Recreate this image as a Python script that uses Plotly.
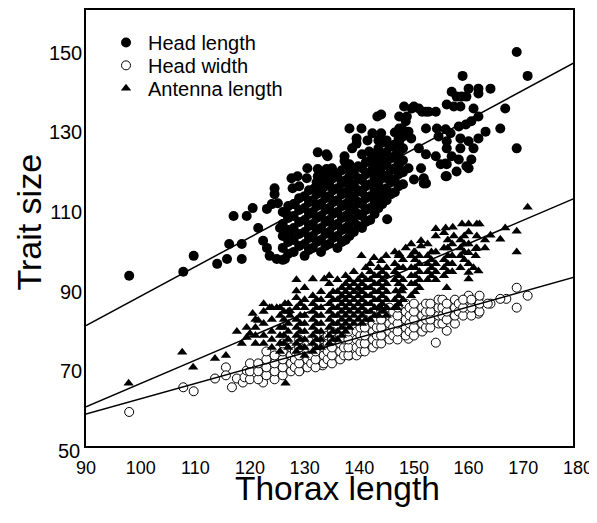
import plotly.graph_objects as go

# ---------------- data ----------------
head_length_pts = [
    (97.9, 94), (107.8, 95), (109.7, 99), (114, 97), (115.8, 98.2), (116.2, 102), (117, 109),
    (119.4, 109), (118.5, 98.2), (118.5, 102), (120.5, 111), (121.5, 106), (122.4, 102.8),
    (123.1, 101), (123.6, 99), (124.9, 98.2), (123.1, 110.8), (124, 112), (124.5, 116),
    (124.5, 114.5), (125.1, 112.2), (125.5, 106), (126.4, 104.5), (126.4, 98.2), (126.7, 109.5),
    (127.6, 118.5), (127.8, 116), (128.2, 112), (127.3, 104.5),
    (130.5, 121), (132.4, 125), (134.2, 124), (132.4, 120.8), (132.4, 119), (134, 120.8),
    (134, 118.5), (128.7, 119), (130.4, 118.5), (131.8, 116), (133.3, 116), (135, 121),
    (135.5, 119.8), (137.3, 124), (137.3, 122.8), (141.8, 125.2), (138.2, 131), (140.4, 131),
    (142.4, 129.8), (144, 129.8), (139.5, 128.5), (139.5, 127.2), (138.7, 126), (141.5, 128),
    (143.5, 128), (145.5, 126.5), (134, 124.5), (140.5, 124.5), (144.2, 122.8), (144.2, 121.5),
    (147.3, 122), (147.3, 120.8), (138.7, 121), (142.4, 120.8), (144.5, 119), (145.8, 118.2),
    (148.2, 136.5), (150, 136.5), (150.9, 136), (152.2, 135.2), (154, 135.2), (147.3, 134),
    (148.7, 134), (144, 134.5), (143.3, 134), (147.3, 131), (147.3, 127.8), (147.8, 131),
    (148.5, 132.8), (149, 130.2), (149.5, 128.5), (149, 121), (150, 118.2), (152.2, 117.2),
    (152.2, 124.5), (154, 124), (156, 137), (154.5, 129), (155.8, 122.2), (155.8, 119),
    (150.9, 126), (146.7, 126), (147.3, 125.2), (147.3, 119.8), (144.2, 119.5), (145.1, 118.5),
    (146, 118.2), (144.2, 114.5), (144.2, 113.2), (145.1, 108.2),
    (168.8, 150.2), (170.8, 144.2), (158.9, 144.2), (160, 141), (161.8, 141), (161.8, 139.8),
    (164, 141), (156.9, 140.2), (157.8, 139), (158.7, 139), (159.6, 139), (157.3, 136.5),
    (158.5, 136.5), (160.9, 136), (161.8, 134), (166.7, 136), (149.6, 136), (151.5, 135.2),
    (152.7, 135.2), (152.2, 131), (154.2, 131), (155.8, 130.8), (156.7, 129.8), (158.2, 131.5),
    (159.5, 132), (160.5, 132.8), (163.1, 130.2), (165.8, 131), (168.8, 126), (156, 127.8),
    (156, 126), (158.5, 128.5), (158.5, 126), (160, 127.8), (160.9, 126), (161.8, 128.5),
    (156.9, 124), (158.2, 123.2), (160.5, 123.2), (159.6, 121.5), (154.9, 122), (156, 122),
    (157.8, 120.2), (156, 119), (160, 121), (151.3, 121), (151.8, 118.5), (151.8, 117.2),
    # dense core
    (126, 98), (126, 101), (126, 104), (126, 107), (126, 110),
    (127, 99.5), (127, 102.5), (127, 105.5), (127, 108.5), (127, 111.5),
    (128, 100), (128, 103), (128, 106), (128, 109), (128, 112),
    (129, 101.5), (129, 104.5), (129, 107.5), (129, 110.5), (129, 113.5), (129, 116.5),
    (130, 99), (130, 102), (130, 105), (130, 108), (130, 111), (130, 114),
    (130.8, 100.5), (130.8, 103.5), (130.8, 106.5), (130.8, 109.5), (130.8, 112.5), (130.8, 115.5),
    (131.5, 101), (131.5, 104), (131.5, 107), (131.5, 110), (131.5, 113),
    (132.2, 102.5), (132.2, 105.5), (132.2, 108.5), (132.2, 111.5), (132.2, 114.5), (132.2, 117.5),
    (133, 100), (133, 103), (133, 106), (133, 109), (133, 112), (133, 115), (133, 118),
    (133.8, 101.5), (133.8, 104.5), (133.8, 107.5), (133.8, 110.5), (133.8, 113.5), (133.8, 116.5), (133.8, 119.5),
    (134.5, 102), (134.5, 105), (134.5, 108), (134.5, 111), (134.5, 114), (134.5, 117),
    (135.2, 103.5), (135.2, 106.5), (135.2, 109.5), (135.2, 112.5), (135.2, 115.5), (135.2, 118.5),
    (136, 101), (136, 104), (136, 107), (136, 110), (136, 113), (136, 116), (136, 119),
    (136.8, 102.5), (136.8, 105.5), (136.8, 108.5), (136.8, 111.5), (136.8, 114.5), (136.8, 117.5), (136.8, 120.5),
    (137.5, 103), (137.5, 106), (137.5, 109), (137.5, 112), (137.5, 115), (137.5, 118), (137.5, 121),
    (138.2, 104), (138.2, 107), (138.2, 110), (138.2, 113), (138.2, 116), (138.2, 119), (138.2, 122),
    (139, 105), (139, 108), (139, 111), (139, 114), (139, 117), (139, 120),
    (139.8, 106.5), (139.8, 109.5), (139.8, 112.5), (139.8, 115.5), (139.8, 118.5), (139.8, 121.5),
    (140.5, 106), (140.5, 109), (140.5, 112), (140.5, 115), (140.5, 118), (140.5, 121),
    (141.2, 107.5), (141.2, 110.5), (141.2, 113.5), (141.2, 116.5), (141.2, 119.5), (141.2, 122.5),
    (142, 108), (142, 111), (142, 114), (142, 117), (142, 120), (142, 123),
    (142.8, 109.5), (142.8, 112.5), (142.8, 115.5), (142.8, 118.5), (142.8, 121.5), (142.8, 124.5),
    (143.5, 111), (143.5, 114), (143.5, 117), (143.5, 120), (143.5, 123), (143.5, 126),
    (144.2, 112), (144.2, 115.5), (144.2, 118.5), (144.2, 121.5), (144.2, 124.5), (144.2, 127.5),
    (145, 113), (145, 116), (145, 119), (145, 122), (145, 125), (145, 128),
    (145.8, 114.5), (145.8, 117.5), (145.8, 120.5), (145.8, 123.5), (145.8, 126.5),
    (146.5, 115), (146.5, 118), (146.5, 121), (146.5, 124), (146.5, 127), (146.5, 130),
    (147.2, 116.5), (147.2, 119.5), (147.2, 122.5), (147.2, 125.5), (147.2, 128.5),
    (148, 117), (148, 120), (148, 123), (148, 126), (148, 129),
]

head_width_pts = [
    (97.9, 59.8), (107.8, 66), (109.7, 65), (113.6, 68.2), (115.6, 71), (115.6, 69),
    (116.7, 66), (117.6, 68.2), (118.7, 67.2), (119, 68.5), (119.4, 70.2), (122.4, 67.2),
    (123.3, 73.5), (126.9, 75.8), (126.7, 77), (131, 74), (133.3, 71.5), (129.1, 70.2),
    (154, 77.2), (156, 80.2), (142.2, 76.5), (138.2, 74), (149, 78.2),
    (168.8, 91), (170.8, 89), (168.8, 86), (166.9, 88.2), (165.8, 88.2), (164, 87),
    (161.8, 88.2), (161.8, 86.5), (161.8, 84.5), (160, 89), (159, 87.5),
    # dense core
    (120, 68), (120, 70), (120, 72),
    (121.5, 68), (121.5, 70), (121.5, 72),
    (123, 69), (123, 71), (123, 73), (123, 75),
    (124.5, 68), (124.5, 70), (124.5, 72), (124.5, 74),
    (126, 69), (126, 71), (126, 73), (126, 75), (126, 77),
    (127.5, 70), (127.5, 72), (127.5, 74), (127.5, 76),
    (128.2, 71), (128.2, 73), (128.2, 75),
    (129, 70), (129, 72), (129, 74), (129, 76), (129, 78),
    (130.5, 71), (130.5, 73), (130.5, 75), (130.5, 77),
    (131.2, 72), (131.2, 74), (131.2, 76), (131.2, 78),
    (132, 71), (132, 73), (132, 75), (132, 77), (132, 79),
    (133.5, 72), (133.5, 74), (133.5, 76), (133.5, 78),
    (134.2, 73), (134.2, 75), (134.2, 77), (134.2, 79),
    (135, 72), (135, 74), (135, 76), (135, 78), (135, 80),
    (136.5, 73), (136.5, 75), (136.5, 77), (136.5, 79),
    (137.2, 74), (137.2, 76), (137.2, 78), (137.2, 80),
    (138, 74), (138, 76), (138, 78), (138, 80), (138, 82),
    (139.5, 74), (139.5, 76), (139.5, 78), (139.5, 80),
    (140.2, 75), (140.2, 77), (140.2, 79), (140.2, 81),
    (141, 75), (141, 77), (141, 79), (141, 81), (141, 83),
    (142.5, 76), (142.5, 78), (142.5, 80), (142.5, 82),
    (143.2, 77), (143.2, 79), (143.2, 81), (143.2, 83),
    (144, 77), (144, 79), (144, 81), (144, 83), (144, 85),
    (145.5, 78), (145.5, 80), (145.5, 82), (145.5, 84), (145.5, 86),
    (146.2, 79), (146.2, 81), (146.2, 83), (146.2, 85),
    (147, 78), (147, 80), (147, 82), (147, 84), (147, 86),
    (148.5, 79), (148.5, 81), (148.5, 83), (148.5, 85), (148.5, 87),
    (149.2, 80), (149.2, 82), (149.2, 84), (149.2, 86),
    (150, 79), (150, 81), (150, 83), (150, 85), (150, 87),
    (151.5, 80), (151.5, 82), (151.5, 84), (151.5, 86),
    (152.2, 81), (152.2, 83), (152.2, 85), (152.2, 87),
    (153, 81), (153, 83), (153, 85), (153, 87),
    (154.5, 82), (154.5, 84), (154.5, 86), (154.5, 88),
    (155.2, 82), (155.2, 84), (155.2, 86), (155.2, 88),
    (156, 83), (156, 85), (156, 87),
    (157.5, 82), (157.5, 84), (157.5, 86), (157.5, 88),
    (158.2, 85), (158.2, 87),
    (159, 84), (159, 86), (159, 88),
    (160.5, 84), (160.5, 86), (160.5, 88),
    (162, 85), (162, 87), (162, 89),
    (163.5, 87),
]

antenna_pts = [
    (97.8, 67), (107.6, 74.8), (109.6, 71), (113.6, 73.2), (115.6, 74), (126.5, 67),
    (117.6, 80), (118.5, 77), (119.4, 78.5), (119.4, 81), (120.5, 84.5), (121.5, 82.8), (120, 79.5),
    (128.5, 93), (131.5, 93.2), (133.6, 93.2), (128.5, 90.2), (128.5, 88.5), (123.6, 86),
    (124.9, 86), (126.4, 87), (127.3, 85.2), (127.3, 84),
    (154, 104), (151.3, 102.8), (151.3, 101.5), (147.3, 99.5), (148.5, 101), (150, 100),
    (140.4, 99), (142.7, 98.5), (144.9, 99), (144, 97.8), (156, 91), (170.8, 111.2),
    (168.8, 105.2), (168.8, 100), (166.7, 106), (165.8, 103.2), (164, 104.2), (162, 107),
    (158.8, 107), (157.1, 106.2), (155.8, 106), (155.5, 104.8), (157.3, 104), (154, 105.8),
    (163, 101), (161.3, 100.8), (160, 99.8), (161.3, 99), (160.9, 96), (161.8, 95.2),
    (160, 94.8), (160, 93.2), (147.8, 90.2), (146.7, 90.2), (144, 85.8), (146.9, 86),
    # dense core
    (121, 77), (121, 79), (121, 81), (121, 83),
    (122.5, 77), (122.5, 79), (122.5, 82), (122.5, 85), (122.5, 87),
    (124, 76), (124, 78), (124, 80), (124, 83), (124, 86),
    (125.5, 75), (125.5, 77), (125.5, 79), (125.5, 81), (125.5, 84), (125.5, 86),
    (126.2, 77), (126.2, 79), (126.2, 81), (126.2, 83), (126.2, 85),
    (127, 76), (127, 78), (127, 80), (127, 82), (127, 85), (127, 87),
    (128.5, 75), (128.5, 77), (128.5, 79), (128.5, 81), (128.5, 83), (128.5, 86),
    (129.2, 76), (129.2, 78), (129.2, 80), (129.2, 82), (129.2, 84), (129.2, 87),
    (130, 74), (130, 76), (130, 78), (130, 80), (130, 82), (130, 84), (130, 86), (130, 88), (130, 91),
    (131.5, 75), (131.5, 77), (131.5, 79), (131.5, 81), (131.5, 83), (131.5, 85), (131.5, 87), (131.5, 89),
    (132.2, 76), (132.2, 78), (132.2, 80), (132.2, 82), (132.2, 84), (132.2, 86), (132.2, 88),
    (133, 76), (133, 78), (133, 80), (133, 82), (133, 84), (133, 86), (133, 88), (133, 90),
    (134.5, 77), (134.5, 79), (134.5, 81), (134.5, 83), (134.5, 85), (134.5, 87), (134.5, 89), (134.5, 92), (134.5, 94),
    (135.2, 78), (135.2, 80), (135.2, 82), (135.2, 84), (135.2, 86), (135.2, 88), (135.2, 90),
    (136, 78), (136, 80), (136, 82), (136, 84), (136, 86), (136, 88), (136, 90), (136, 93),
    (136.8, 79), (136.8, 81), (136.8, 83), (136.8, 85), (136.8, 87), (136.8, 89), (136.8, 91),
    (137.5, 80), (137.5, 82), (137.5, 84), (137.5, 86), (137.5, 88), (137.5, 90), (137.5, 92), (137.5, 94),
    (138.2, 81), (138.2, 83), (138.2, 85), (138.2, 87), (138.2, 89), (138.2, 91), (138.2, 93),
    (139, 82), (139, 84), (139, 86), (139, 88), (139, 90), (139, 92), (139, 95),
    (139.8, 83), (139.8, 85), (139.8, 87), (139.8, 89), (139.8, 91), (139.8, 93),
    (140.5, 82), (140.5, 84), (140.5, 86), (140.5, 88), (140.5, 90), (140.5, 92), (140.5, 94),
    (141.2, 83), (141.2, 85), (141.2, 87), (141.2, 89), (141.2, 91), (141.2, 93), (141.2, 96),
    (142, 83), (142, 85), (142, 87), (142, 89), (142, 91), (142, 93), (142, 95), (142, 97),
    (142.8, 84), (142.8, 86), (142.8, 88), (142.8, 90), (142.8, 92), (142.8, 94),
    (143.5, 84), (143.5, 86), (143.5, 88), (143.5, 90), (143.5, 92), (143.5, 94), (143.5, 96),
    (144.2, 85), (144.2, 87), (144.2, 89), (144.2, 91), (144.2, 93), (144.2, 95),
    (145, 84), (145, 86), (145, 88), (145, 90), (145, 92), (145, 94), (145, 96),
    (146.5, 86), (146.5, 88), (146.5, 93), (146.5, 95), (146.5, 97), (146.5, 100),
    (147.2, 87), (147.2, 89), (147.2, 92), (147.2, 94), (147.2, 96), (147.2, 99),
    (148, 88), (148, 91), (148, 93), (148, 96), (148, 98),
    (149.5, 89), (149.5, 92), (149.5, 94), (149.5, 96), (149.5, 99), (149.5, 102),
    (150.2, 90), (150.2, 92), (150.2, 94), (150.2, 96), (150.2, 98), (150.2, 100),
    (151, 91), (151, 93), (151, 95), (151, 97), (151, 99),
    (152.5, 93), (152.5, 95), (152.5, 97), (152.5, 99), (152.5, 102),
    (153.2, 94), (153.2, 96), (153.2, 98), (153.2, 100),
    (154, 93), (154, 95), (154, 97), (154, 100),
    (155.5, 94), (155.5, 96), (155.5, 98), (155.5, 101),
    (156.2, 95), (156.2, 97), (156.2, 99), (156.2, 101), (156.2, 103),
    (157, 95), (157, 97), (157, 99), (157, 102),
    (158.5, 96), (158.5, 99), (158.5, 101), (158.5, 103),
    (159.2, 98), (159.2, 100), (159.2, 102), (159.2, 104),
    (160, 97), (160, 102), (160, 105), (160, 107),
    (161.5, 101), (161.5, 104), (161.5, 107),
    (163, 103),
]

# regression lines (end points)
fit_x = [90, 180]
head_length_fit = [81.5, 148.0]
antenna_fit = [61.1, 113.8]
head_width_fit = [59.25, 93.9]

x_ticks = [90, 100, 110, 120, 130, 140, 150, 160, 170]
y_ticks = [70, 90, 110, 130, 150]

FONT = "Liberation Sans, Arial, sans-serif"
XTICK_FONT = dict(family=FONT, size=18, color="black")
YTICK_FONT = dict(family=FONT, size=20, color="black")
LEG_FONT = dict(family=FONT, size=20, color="black")


def xs(p):
    return [a for a, b in p]


def ys(p):
    return [b for a, b in p]


fig = go.Figure()
fig.add_trace(go.Scatter(
    x=xs(head_width_pts), y=ys(head_width_pts), mode="markers", name="Head width",
    legend="legend2",
    marker=dict(symbol="circle", size=9, color="white", line=dict(color="black", width=1)),
))
fig.add_trace(go.Scatter(
    x=xs(antenna_pts), y=ys(antenna_pts), mode="markers", name="Antenna length",
    legend="legend3",
    marker=dict(symbol="triangle-up", size=9, color="black", line=dict(width=0)),
))
fig.add_trace(go.Scatter(
    x=xs(head_length_pts), y=ys(head_length_pts), mode="markers", name="Head length",
    legend="legend",
    marker=dict(symbol="circle", size=10, color="black", line=dict(width=0)),
))
for fy in (head_length_fit, antenna_fit, head_width_fit):
    fig.add_trace(go.Scatter(x=fit_x, y=fy, mode="lines", showlegend=False,
                             line=dict(color="black", width=1.5)))

axis_common = dict(showline=True, mirror=True, linecolor="black", linewidth=1.5,
                   showgrid=False, zeroline=False, ticks="")

leg_common = dict(xanchor="left", yanchor="top", font=LEG_FONT,
                  bgcolor="rgba(0,0,0,0)", itemwidth=34, borderwidth=0)

fig.update_layout(
    width=589, height=515,
    margin=dict(l=78, r=24, t=0, b=77),
    paper_bgcolor="white", plot_bgcolor="white",
    font=dict(family=FONT, color="black"),
    xaxis=dict(range=[90, 179.1], tickvals=x_ticks, ticklabelstandoff=5,
               tickfont=XTICK_FONT, **axis_common),
    yaxis=dict(range=[51.25, 160.75], tickvals=y_ticks, ticklabelstandoff=-2,
               tickfont=YTICK_FONT, **axis_common),
    showlegend=True,
    legend=dict(x=0.037, y=0.9703, **leg_common),
    legend2=dict(x=0.037, y=0.9178, **leg_common),
    legend3=dict(x=0.037, y=0.8653, **leg_common),
    annotations=[
        dict(text="50", xref="paper", yref="paper", x=-0.0082, y=-0.0114,
             xanchor="right", yanchor="middle", showarrow=False, font=YTICK_FONT),
        dict(text="180", xref="paper", yref="paper", x=1.0103, y=-0.0502,
             xanchor="center", yanchor="middle", showarrow=False, font=XTICK_FONT),
        dict(text="Trait size", xref="paper", yref="paper", x=-0.118, y=0.5137,
             xanchor="center", yanchor="middle", textangle=-90, showarrow=False,
             font=dict(family=FONT, size=34, color="black")),
        dict(text="Thorax length", xref="paper", yref="paper", x=0.517, y=-0.097,
             xanchor="center", yanchor="middle", showarrow=False,
             font=dict(family=FONT, size=33.5, color="black")),
    ],
)

fig.write_html("out.html")
